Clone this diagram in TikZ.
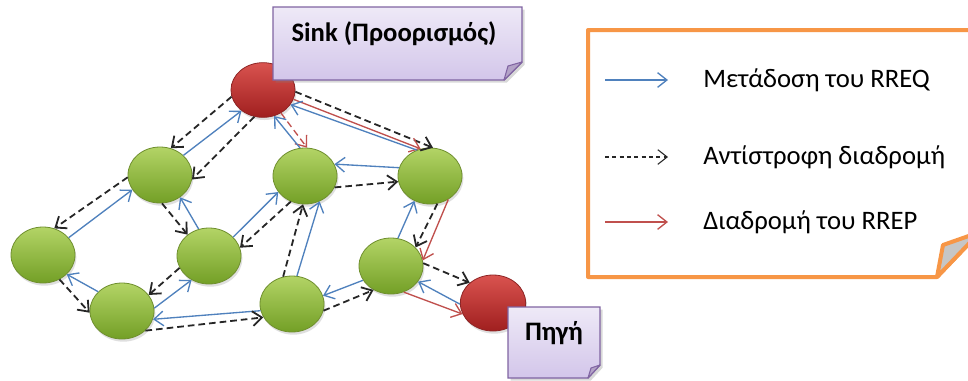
\documentclass[tikz,border=0pt]{standalone}
\usepackage{fontspec}
\setmainfont{Carlito}
\usetikzlibrary{arrows.meta,shapes.geometric,shadows}
\definecolor{rreq}{HTML}{4F81BD}
\definecolor{rrep}{HTML}{C0504D}
\definecolor{orng}{HTML}{F79646}
\definecolor{grtop}{HTML}{B3D466}
\definecolor{grbot}{HTML}{739F26}
\definecolor{grline}{HTML}{6F8F2E}
\definecolor{rdtop}{HTML}{D9534F}
\definecolor{rdbot}{HTML}{A01F1F}
\definecolor{rdline}{HTML}{8E2424}
\definecolor{nttop}{HTML}{EEE9F7}
\definecolor{ntbot}{HTML}{D3C6EA}
\definecolor{ntline}{HTML}{8064A2}
\definecolor{ntfold}{HTML}{B3A2C7}
\tikzset{
  tipx/.style={-{Straight Barb[length=7pt,width=11pt]}},
  rq/.style={draw=rreq, line width=1pt, tipx},
  rp/.style={draw=rrep, line width=1pt, tipx},
  rpd/.style={draw=rrep, line width=1pt, dash pattern=on 5pt off 3pt, tipx},
  rv/.style={draw=black!85, line width=1.35pt, dash pattern=on 5pt off 3pt, tipx},
  gnode/.style={ellipse, inner sep=0pt, minimum width=48pt, minimum height=42pt,
    top color=grtop, bottom color=grbot, draw=grline, line width=0.6pt,
    drop shadow={shadow xshift=1pt, shadow yshift=-2pt, opacity=0.25}},
  rnode/.style={ellipse, inner sep=0pt, minimum width=48pt, minimum height=41pt,
    top color=rdtop, bottom color=rdbot, draw=rdline, line width=0.6pt,
    drop shadow={shadow xshift=1pt, shadow yshift=-2pt, opacity=0.25}},
  notebox/.style={top color=nttop, bottom color=ntbot, draw=ntline, line width=1.1pt,
    drop shadow={shadow xshift=2pt, shadow yshift=-2pt, opacity=0.3}},
  notefold/.style={fill=ntfold, draw=ntline, line width=0.8pt, line join=round},
  lbl/.style={inner sep=0pt, anchor=west, font=\fontsize{20}{24}\selectfont},
  ntext/.style={inner sep=0pt, font=\fontsize{20}{24}\selectfont\bfseries}
}
\begin{document}
\begin{tikzpicture}[x=0.75pt,y=-0.75pt]
\useasboundingbox (0,0) rectangle (968,380);
\fill[white] (0,0) rectangle (968,380);

% nodes
\node[rnode] (Sink) at (263,90) {};
\node[rnode, minimum width=49pt, minimum height=42pt] (Src) at (493,303) {};
\node[gnode] (A) at (160,175) {};
\node[gnode] (B) at (43,255) {};
\node[gnode] (C) at (209,256) {};
\node[gnode] (D) at (122,311) {};
\node[gnode] (E) at (292,304) {};
\node[gnode] (F) at (305,176) {};
\node[gnode] (G) at (430,176) {};
\node[gnode] (H) at (391,266) {};

% connectors
\draw[rv] (Sink.192) -- (A.68);
\draw[rq] (A.40) -- (Sink.224);
\draw[rv] (Sink.252) -- (A.352);
\draw[rv] (A.184) -- (B.67);
\draw[rq] (B.34) -- (A.208);
\draw[rv] (A.274) -- (C.135);
\draw[rq] (C.111) -- (A.312);
\draw[rq] (C.38) -- (F.211);
\draw[rv] (F.241) -- (C.15);
\draw[rv] (B.304) -- (D.183);
\draw[rq] (D.141) -- (B.321);
\draw[rv] (C.202) -- (D.31);
\draw[rq] (D.5) -- (C.234);
\draw[rq] (E.192) -- (D.345);
\draw[rv] (D.320) -- (E.205);
\draw[rv] (E.108) -- (F.266);
\draw[rq] (E.80) -- (F.300);
\draw[rq] (G.165) -- (F.22);
\draw[rv] (F.339) -- (G.190);
\draw[rq] (H.76) -- (G.238);
\draw[rv] (G.285) -- (H.37);
\draw[rp] (G.308) -- (H.10);
\draw[rv] (H.5) -- (Src.139);
\draw[rq] (Src.182) -- (H.330);
\draw[rp] (H.296) -- (Src.200);
\draw[rq] (H.207) -- (E.15);
\draw[rv] (E.348) -- (H.234);
\draw[rv] (Sink.357) -- (G.84);
\draw[rp] (Sink.343) -- (G.109);
\draw[rq] (G.117) -- (Sink.332);
\draw[rpd] (Sink.308) -- (F.86);
\draw[rq] (F.100) -- (Sink.293);

% sink note
\path[notebox] (273,7) -- (522,7) -- (522,62) -- (504,80) -- (273,80) -- cycle;
\path[notefold] (504,80) -- (508,66) -- (522,62) -- cycle;
\node[ntext] (sinklbl) at (394,34) {Sink (Προορισμός)};

% source note
\path[notebox] (508,307) -- (600,307) -- (600,365) -- (588,378) -- (508,378) -- cycle;
\path[notefold] (588,378) -- (591,368) -- (600,365) -- cycle;
\node[ntext] (srclbl) at (554,333) {Πηγή};

% legend
\path[draw=orng, line width=3pt, fill=white, line join=round] (588,30) -- (980,30) -- (980,232) -- (937,277) -- (588,277) -- cycle;
\path[fill=gray!45, draw=orng, line width=3pt, line join=round] (937,277) -- (943,245) -- (980,232) -- cycle;

\coordinate (l1a) at (605,80);  \coordinate (l1b) at (668,80);
\coordinate (l2a) at (605,157); \coordinate (l2b) at (668,157);
\coordinate (l3a) at (605,222); \coordinate (l3b) at (668,222);
\draw[rq] (l1a) -- (l1b);
\draw[rv, line width=0.8pt, dash pattern=on 3pt off 2.5pt] (l2a) -- (l2b);
\draw[rp] (l3a) -- (l3b);
\node[lbl] (t1) at (703,80) {Μετάδοση του RREQ};
\node[lbl] (t2) at (703,157) {Αντίστροφη διαδρομή};
\node[lbl] (t3) at (703,222) {Διαδρομή του RREP};
\end{tikzpicture}
\end{document}
